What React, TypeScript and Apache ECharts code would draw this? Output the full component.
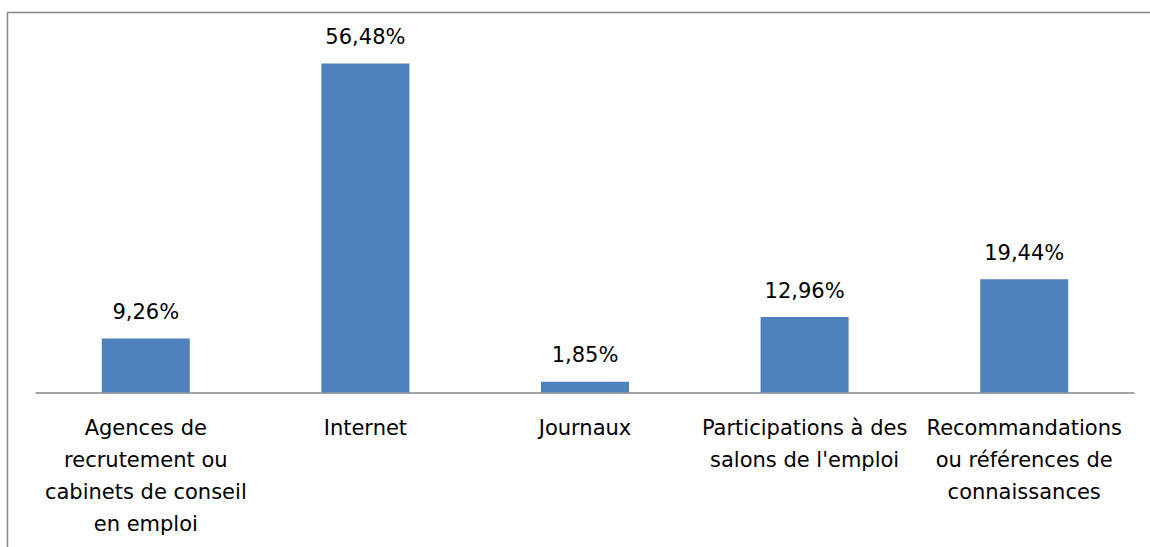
import React, { useEffect, useRef } from "react";
import * as echarts from "echarts";

const categories = [
  "Agences de\nrecrutement ou\ncabinets de conseil\nen emploi",
  "Internet",
  "Journaux",
  "Participations à des\nsalons de l'emploi",
  "Recommandations\nou références de\nconnaissances",
];
const values = [9.26, 56.48, 1.85, 12.96, 19.44];

const FONT = "DejaVu Sans";

export default function App() {
  const ref = useRef<HTMLDivElement>(null);
  useEffect(() => {
    document.body.style.margin = "0";
    const chart = echarts.init(ref.current!, null, { renderer: "svg" });
    chart.setOption({
      animation: false,
      backgroundColor: "#ffffff",
      grid: { left: 36, right: 16, top: 43, bottom: 154.5 },
      xAxis: {
        type: "category",
        data: categories,
        axisLine: { lineStyle: { color: "#868686", width: 1.5 } },
        axisTick: { show: false },
        axisLabel: {
          interval: 0,
          margin: 19,
          color: "#000000",
          fontFamily: FONT,
          fontSize: 21,
          lineHeight: 32,
        },
      },
      yAxis: {
        type: "value",
        min: 0,
        max: 60,
        show: false,
        splitLine: { show: false },
      },
      series: [
        {
          type: "bar",
          data: values,
          barWidth: 88,
          itemStyle: { color: "#4f81bd" },
          label: {
            show: true,
            position: "top",
            distance: 16,
            color: "#000000",
            fontFamily: FONT,
            fontSize: 21,
            formatter: (p: any) => p.value.toFixed(2).replace(".", ",") + "%",
          },
        },
      ],
      graphic: [
        {
          type: "rect",
          shape: { x: 7.5, y: 12.5, width: 1300, height: 700 },
          style: { fill: "none", stroke: "#868686", lineWidth: 1.5 },
          silent: true,
        },
      ],
    });
    return () => chart.dispose();
  }, []);
  return <div ref={ref} style={{ width: 1150, height: 547 }} />;
}
